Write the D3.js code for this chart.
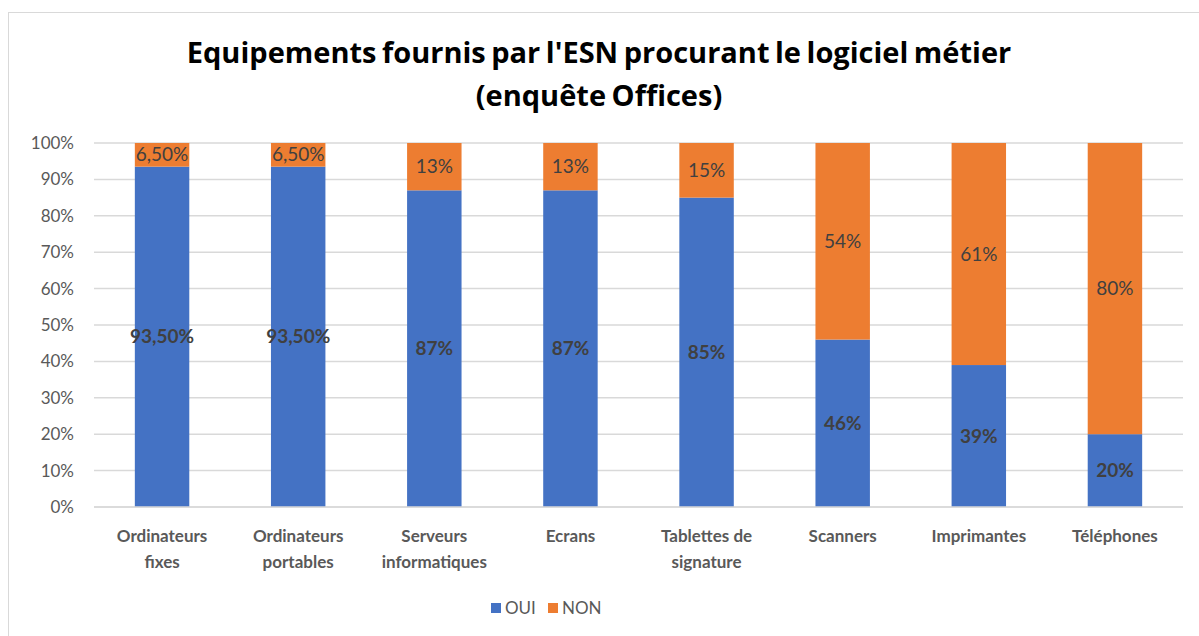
<!DOCTYPE html>
<html>
<head>
<meta charset="utf-8">
<script src="https://cdn.jsdelivr.net/npm/d3@7"></script>
<style>
  body { margin: 0; background: #fff; }
  text { font-family: Lato, "Open Sans", sans-serif; }
</style>
</head>
<body>
<div id="chart"></div>
<script>
// data
var categories = ["Ordinateurs fixes", "Ordinateurs portables", "Serveurs informatiques", "Ecrans",
    "Tablettes de signature", "Scanners", "Imprimantes", "Téléphones"];
var labelLines = [["Ordinateurs", "fixes"], ["Ordinateurs", "portables"], ["Serveurs", "informatiques"],
    ["Ecrans"], ["Tablettes de", "signature"], ["Scanners"], ["Imprimantes"], ["Téléphones"]];
var oui = [93.5, 93.5, 87, 87, 85, 46, 39, 20];
var non = [6.5, 6.5, 13, 13, 15, 54, 61, 80];
var ouiLabels = ["93,50%", "93,50%", "87%", "87%", "85%", "46%", "39%", "20%"];
var nonLabels = ["6,50%", "6,50%", "13%", "13%", "15%", "54%", "61%", "80%"];
var yTicks = [0, 10, 20, 30, 40, 50, 60, 70, 80, 90, 100];
var seriesNames = ["OUI", "NON"];
var colors = ["#4472C4", "#ED7D31"];

var svgWidth = 1199;
var svgHeight = 636;

var margin = { top: 143, right: 16, bottom: 129, left: 94 };
var width = svgWidth - margin.left - margin.right;
var height = svgHeight - margin.top - margin.bottom;

var svg = d3.select("#chart")
    .append("svg")
    .attr("width", svgWidth)
    .attr("height", svgHeight);

// frame
svg.append("rect")
    .attr("x", 8.5)
    .attr("y", 12.5)
    .attr("width", 1300)
    .attr("height", 800)
    .attr("fill", "none")
    .attr("stroke", "#d9d9d9");

// title
svg.append("text")
    .attr("x", 599)
    .attr("y", 63)
    .attr("text-anchor", "middle")
    .style("font-family", "'Open Sans', sans-serif")
    .style("font-size", "29px")
    .style("font-weight", "bold")
    .style("word-spacing", "-2px")
    .attr("fill", "#000")
    .text("Equipements fournis par l'ESN procurant le logiciel métier");

svg.append("text")
    .attr("x", 599)
    .attr("y", 106)
    .attr("text-anchor", "middle")
    .style("font-family", "'Open Sans', sans-serif")
    .style("font-size", "29px")
    .style("font-weight", "bold")
    .style("word-spacing", "-2px")
    .attr("fill", "#000")
    .text("(enquête Offices)");

var g = svg.append("g")
    .attr("transform", `translate(${margin.left}, ${margin.top})`);

var x = d3.scaleBand()
    .domain(categories)
    .range([0, width])
    .paddingInner(0.6)
    .paddingOuter(0.3);

var y = d3.scaleLinear()
    .domain([0, 100])
    .range([height, 0]);

// gridlines
g.append("g")
    .selectAll("line")
    .data(yTicks)
    .enter()
    .append("line")
    .attr("x1", 0)
    .attr("x2", width)
    .attr("y1", d => y(d))
    .attr("y2", d => y(d))
    .attr("stroke", "#d9d9d9")
    .attr("stroke-width", 1.5);

// y axis
var yAxis = g.append("g")
    .call(d3.axisLeft(y).tickValues(yTicks).tickSize(0).tickPadding(20).tickFormat(d => d + "%"));
yAxis.select(".domain").remove();
yAxis.selectAll("text")
    .style("font-size", "17px")
    .attr("fill", "#595959");

// stacked data
var rows = categories.map((c, i) => ({ cat: c, OUI: oui[i], NON: non[i], i: i }));
var stacked = d3.stack().keys(seriesNames)(rows);

var layers = g.selectAll(".layer")
    .data(stacked)
    .enter()
    .append("g")
    .attr("fill", (d, i) => colors[i]);

layers.selectAll("rect")
    .data(d => d)
    .enter()
    .append("rect")
    .attr("x", d => x(d.data.cat))
    .attr("y", d => y(d[1]))
    .attr("width", x.bandwidth())
    .attr("height", d => y(d[0]) - y(d[1]));

// data labels
layers.each(function(layer, li) {
    d3.select(this).selectAll("text")
        .data(layer)
        .enter()
        .append("text")
        .attr("x", d => x(d.data.cat) + x.bandwidth() / 2)
        .attr("y", d => y((d[0] + d[1]) / 2))
        .attr("dy", "0.35em")
        .attr("text-anchor", "middle")
        .attr("fill", "#404040")
        .style("font-size", "19px")
        .style("font-weight", li === 0 ? "bold" : "normal")
        .text(d => li === 0 ? ouiLabels[d.data.i] : nonLabels[d.data.i]);
});

// x axis line
g.append("line")
    .attr("x1", 0)
    .attr("x2", width)
    .attr("y1", height)
    .attr("y2", height)
    .attr("stroke", "#d9d9d9")
    .attr("stroke-width", 1.5);

// x labels
var xLabels = g.append("g")
    .selectAll("text")
    .data(categories)
    .enter()
    .append("text")
    .attr("x", d => x(d) + x.bandwidth() / 2)
    .attr("y", height + 35)
    .attr("text-anchor", "middle")
    .attr("fill", "#595959")
    .style("font-size", "17px")
    .style("font-weight", "bold");

xLabels.selectAll("tspan")
    .data((d, i) => labelLines[i])
    .enter()
    .append("tspan")
    .attr("x", function() { return d3.select(this.parentNode).attr("x"); })
    .attr("dy", (d, i) => i === 0 ? 0 : 26)
    .text(d => d);

// legend
var legend = svg.append("g")
    .attr("transform", "translate(491, 608)");

var legendItems = legend.selectAll("g")
    .data(seriesNames)
    .enter()
    .append("g")
    .attr("transform", (d, i) => `translate(${i * 57}, 0)`);

legendItems.append("rect")
    .attr("x", 0)
    .attr("y", -5)
    .attr("width", 10)
    .attr("height", 10)
    .attr("fill", (d, i) => colors[i]);

legendItems.append("text")
    .attr("x", 14)
    .attr("y", 0)
    .attr("dy", "0.35em")
    .attr("fill", "#595959")
    .style("font-size", "17px")
    .text(d => d);
</script>
</body>
</html>
